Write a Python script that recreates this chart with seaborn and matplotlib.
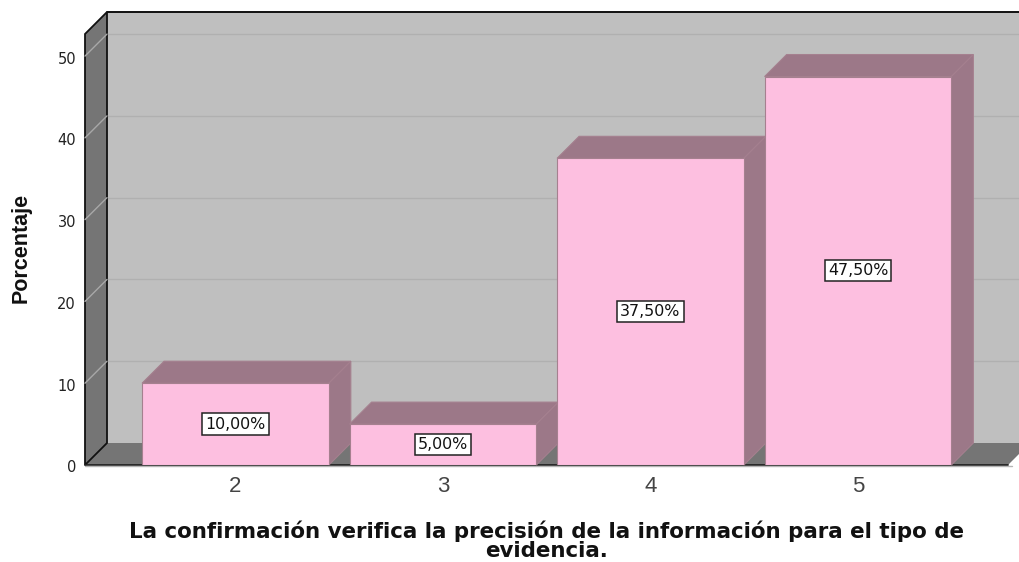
import matplotlib
matplotlib.use("Agg")
import matplotlib.pyplot as plt
from matplotlib.patches import Polygon
from matplotlib.transforms import ScaledTranslation
import pandas as pd
import seaborn as sns

categories = ["2", "3", "4", "5"]
percentages = [10.0, 5.0, 37.5, 47.5]
y_ticks = [0, 10, 20, 30, 40, 50]
x_title = "La confirmación verifica la precisión de la información para el tipo de\nevidencia."
y_title = "Porcentaje"

BAR = "#fdbfe0"
BAR_DARK = "#9c7888"
BAR_EDGE = "#a5808f"
WALL = "#bfbfbf"
SIDE = "#757575"
GRID = "#b0b0b0"
W, H = 1020, 562

sns.set_theme(style="white")
plt.rcParams["font.family"] = ["Liberation Sans", "DejaVu Sans"]
df = pd.DataFrame({"cat": categories, "pct": percentages})

fig = plt.figure(figsize=(W / 100, H / 100), dpi=100, facecolor="white")
ax = fig.add_axes([85 / W, (H - 465) / H, (1008 - 85) / W, (465 - 34) / H])
sns.barplot(data=df, x="cat", y="pct", ax=ax, color=BAR, saturation=1, width=0.9,
            edgecolor=BAR_EDGE, linewidth=0.8, zorder=5)
ax.set_xlim(-0.725, 3.723)
ax.set_ylim(0, 52.7)

# depth of the 3D box, 22 px converted to data units
x0, x1 = ax.get_xlim()
y0, y1 = ax.get_ylim()
dx = 22 * (x1 - x0) / (1008 - 85)
dy = 22 * (y1 - y0) / (465 - 34)


def poly(points, fc, ec="none", lw=0.0, z=1):
    ax.add_patch(Polygon(points, closed=True, facecolor=fc, edgecolor=ec,
                         linewidth=lw, zorder=z, clip_on=False))


# back wall, left wall, floor
poly([(x0 + dx, dy), (x1 + dx, dy), (x1 + dx, y1 + dy), (x0 + dx, y1 + dy)], WALL, z=1)
ax.plot([x0 + dx, x1 + dx], [y1 + dy, y1 + dy], color="#111111", lw=1.4, zorder=2, clip_on=False)
poly([(x0, 0), (x0 + dx, dy), (x0 + dx, y1 + dy), (x0, y1)], SIDE, ec="#111111", lw=1.3, z=3)
poly([(x0, 0), (x1, 0), (x1 + dx, dy), (x0 + dx, dy)], SIDE, z=2)
ax.plot([x0, x1], [0, 0], color="#222222", lw=1.3, zorder=3, clip_on=False)
ax.plot([x0, x1 + 0.02], [-0.12, -0.12], color="#b5b5b5", lw=1.0, zorder=3, clip_on=False)

for t in y_ticks[1:]:
    ax.plot([x0 + dx, x1 + dx], [t + dy, t + dy], color=GRID, lw=1.0, zorder=1.5, clip_on=False)
    ax.plot([x0, x0 + dx], [t, t + dy], color="#a8a8a8", lw=1.0, zorder=3.5, clip_on=False)

# bar side and top faces, derived from the seaborn bars
for patch, value in zip(ax.patches[:len(percentages)], percentages):
    left, right = patch.get_x(), patch.get_x() + patch.get_width()
    top = patch.get_height()
    poly([(left, top), (right, top), (right + dx, top + dy), (left + dx, top + dy)],
         BAR_DARK, ec=BAR_EDGE, lw=0.8, z=4)
    poly([(right, 0), (right + dx, dy), (right + dx, top + dy), (right, top)],
         BAR_DARK, ec=BAR_EDGE, lw=0.8, z=4)
    ax.text((left + right) / 2, top / 2, f"{value:.2f}%".replace(".", ","),
            ha="center", va="center", fontsize=11.4, color="#111111", zorder=7,
            family="DejaVu Sans",
            bbox=dict(boxstyle="square,pad=0.2", fc="white", ec="#222222", lw=1.1))

ax.set_yticks(y_ticks)
ax.set_xticks(range(len(categories)), categories)
ax.tick_params(axis="y", length=0, pad=6.5, labelsize=10.5, labelcolor="#222222")
ax.tick_params(axis="x", length=0, pad=8, labelsize=16, labelcolor="#444444")
shift = ScaledTranslation(0, -1.5 / 100, fig.dpi_scale_trans)
for lab in ax.get_yticklabels():
    lab.set_family("DejaVu Sans")
    lab.set_transform(lab.get_transform() + shift)
for s in ax.spines.values():
    s.set_visible(False)
ax.patch.set_visible(False)
ax.set_xlabel("")
ax.set_ylabel("")

fig.text(547 / W, 1 - 541 / H, x_title, ha="center", va="center", fontsize=15.4,
         fontweight="bold", color="#111111", linespacing=0.92, family="DejaVu Sans")
fig.text(21 / W, 1 - 248 / H, y_title, rotation=90, ha="center", va="center",
         fontsize=15.5, fontweight="bold", color="#111111")

fig.savefig("out.png", dpi=100, facecolor="white")
